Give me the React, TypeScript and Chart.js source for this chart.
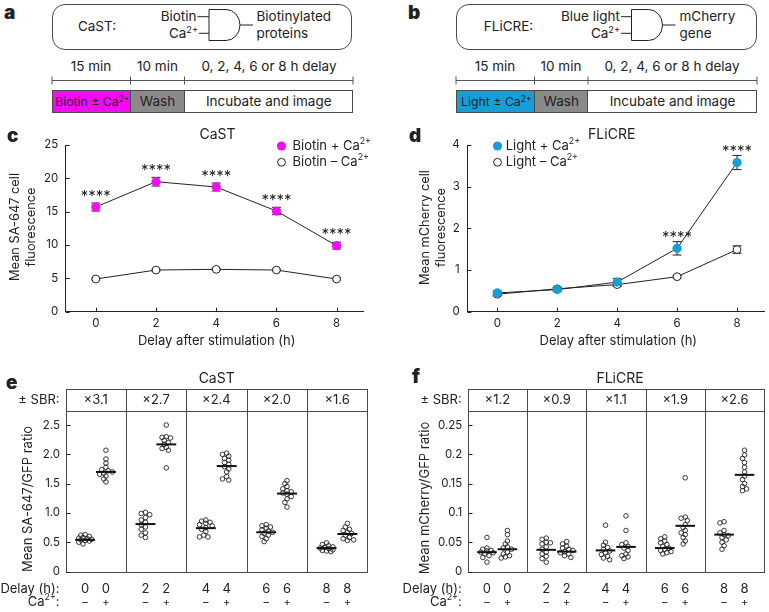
import React, { useEffect, useRef } from 'react';
import { Chart, registerables } from 'chart.js';

Chart.register(...registerables);

const FONT = 'Inter, "Noto Sans", "DejaVu Sans", sans-serif';
const INK = '#222222';
const MAGENTA = '#f50cf2';
const BLUE = '#169fd7';
const WASH = '#8a8a8a';
const BOX = '#4a4a4a';

// ---------- data: panels c & d ----------
const DELAYS = [0, 2, 4, 6, 8];
const CAST_PLUS = [15.7, 19.5, 18.7, 15.1, 9.9];
const CAST_PLUS_ERR = [0.6, 0.65, 0.6, 0.55, 0.5];
const CAST_MINUS = [4.9, 6.25, 6.35, 6.25, 4.9];
const CAST_MINUS_ERR = [0.15, 0.15, 0.15, 0.15, 0.15];
const CAST_SIG = ['****', '****', '****', '****', '****'];
const FLICRE_PLUS = [0.45, 0.53, 0.71, 1.52, 3.58];
const FLICRE_PLUS_ERR = [0.05, 0.05, 0.09, 0.16, 0.17];
const FLICRE_MINUS = [0.42, 0.55, 0.65, 0.84, 1.49];
const FLICRE_MINUS_ERR = [0.04, 0.04, 0.04, 0.03, 0.09];
const FLICRE_SIG = ['', '', '', '****', '****'];
const C_YTICKS = [0, 5, 10, 15, 20, 25];
const D_YTICKS = [0, 1, 2, 3, 4];

// ---------- data: panels e & f ----------
const E_YTICKS = [0, 0.5, 1.0, 1.5, 2.0, 2.5];
const F_YTICKS = [0, 0.05, 0.1, 0.15, 0.2, 0.25];
const SBR_CAST = ['×3.1', '×2.7', '×2.4', '×2.0', '×1.6'];
const SBR_FLICRE = ['×1.2', '×0.9', '×1.1', '×1.9', '×2.6'];
const CA_LABELS = ['–', '+'];

const CAST_RATIO_MINUS = [
  [0.47, 0.5, 0.52, 0.53, 0.54, 0.55, 0.56, 0.57, 0.58, 0.6, 0.62, 0.63],
  [1.01, 0.99, 0.97, 0.92, 0.88, 0.84, 0.8, 0.76, 0.72, 0.66, 0.62, 0.58],
  [0.88, 0.86, 0.84, 0.82, 0.8, 0.78, 0.75, 0.72, 0.68, 0.62, 0.59, 0.59],
  [0.8, 0.78, 0.76, 0.74, 0.71, 0.69, 0.67, 0.65, 0.62, 0.6, 0.56, 0.51],
  [0.49, 0.46, 0.44, 0.42, 0.41, 0.4, 0.39, 0.37, 0.36, 0.35, 0.34],
];
const CAST_RATIO_PLUS = [
  [2.07, 1.92, 1.85, 1.78, 1.74, 1.72, 1.7, 1.68, 1.66, 1.63, 1.58, 1.53],
  [2.5, 2.3, 2.29, 2.28, 2.24, 2.2, 2.17, 2.12, 2.1, 2.07, 1.77],
  [2.02, 2.0, 1.97, 1.93, 1.9, 1.86, 1.83, 1.79, 1.75, 1.7, 1.62, 1.58, 1.56],
  [1.55, 1.5, 1.45, 1.41, 1.38, 1.36, 1.34, 1.32, 1.28, 1.24, 1.18, 1.1],
  [0.82, 0.76, 0.72, 0.7, 0.67, 0.65, 0.62, 0.58, 0.56, 0.54, 0.53],
];
const CAST_MEDIAN_MINUS = [0.54, 0.81, 0.74, 0.67, 0.4];
const CAST_MEDIAN_PLUS = [1.7, 2.17, 1.8, 1.33, 0.64];

const FLICRE_RATIO_MINUS = [
  [0.058, 0.04, 0.038, 0.036, 0.035, 0.033, 0.032, 0.03, 0.027, 0.024, 0.016],
  [0.057, 0.055, 0.05, 0.049, 0.047, 0.042, 0.038, 0.033, 0.03, 0.026, 0.022, 0.016],
  [0.079, 0.05, 0.045, 0.041, 0.038, 0.035, 0.032, 0.029, 0.026, 0.023, 0.02],
  [0.059, 0.056, 0.052, 0.049, 0.046, 0.043, 0.04, 0.038, 0.036, 0.034, 0.032, 0.03],
  [0.085, 0.083, 0.07, 0.066, 0.063, 0.061, 0.058, 0.054, 0.05, 0.044, 0.038],
];
const FLICRE_RATIO_PLUS = [
  [0.07, 0.063, 0.052, 0.047, 0.042, 0.04, 0.038, 0.033, 0.03, 0.027, 0.025, 0.023],
  [0.051, 0.047, 0.043, 0.04, 0.038, 0.036, 0.034, 0.032, 0.03, 0.027, 0.024],
  [0.095, 0.07, 0.049, 0.046, 0.043, 0.04, 0.036, 0.03, 0.027, 0.025, 0.022],
  [0.16, 0.093, 0.091, 0.087, 0.08, 0.075, 0.07, 0.066, 0.063, 0.058, 0.052, 0.047],
  [0.207, 0.199, 0.193, 0.186, 0.178, 0.17, 0.163, 0.157, 0.15, 0.145, 0.141, 0.138],
];
const FLICRE_MEDIAN_MINUS = [0.033, 0.037, 0.036, 0.04, 0.063];
const FLICRE_MEDIAN_PLUS = [0.038, 0.034, 0.042, 0.078, 0.165];

// ---------- rich text helpers ----------
type Seg = { t: string; sup: boolean };
function parseRich(s: string): Seg[] {
  const out: Seg[] = [];
  const re = /\^\{([^}]*)\}/g;
  let last = 0;
  let m: RegExpExecArray | null;
  while ((m = re.exec(s))) {
    if (m.index > last) out.push({ t: s.slice(last, m.index), sup: false });
    out.push({ t: m[1], sup: true });
    last = re.lastIndex;
  }
  if (last < s.length) out.push({ t: s.slice(last), sup: false });
  return out;
}

function drawRich(
  ctx: CanvasRenderingContext2D,
  text: string,
  x: number,
  y: number,
  size: number,
  align: 'left' | 'center' | 'right' = 'center',
  rotate = false,
  weight = '400'
) {
  const segs = parseRich(text);
  ctx.save();
  ctx.translate(x, y);
  if (rotate) ctx.rotate(-Math.PI / 2);
  const fontFor = (sup: boolean) => `${weight} ${sup ? size * 0.68 : size}px ${FONT}`;
  const ws: number[] = [];
  let total = 0;
  for (const s of segs) {
    ctx.font = fontFor(s.sup);
    const w = ctx.measureText(s.t).width;
    ws.push(w);
    total += w;
  }
  let cx = align === 'left' ? 0 : align === 'right' ? -total : -total / 2;
  ctx.textAlign = 'left';
  ctx.textBaseline = 'middle';
  ctx.fillStyle = INK;
  segs.forEach((s, i) => {
    ctx.font = fontFor(s.sup);
    ctx.fillText(s.t, cx, s.sup ? -size * 0.36 : 0);
    cx += ws[i];
  });
  ctx.restore();
}

function line(ctx: CanvasRenderingContext2D, x1: number, y1: number, x2: number, y2: number) {
  ctx.beginPath();
  ctx.moveTo(x1, y1);
  ctx.lineTo(x2, y2);
  ctx.stroke();
}

// deterministic, narrow beeswarm offsets (no randomness)
function swarm(values: number[], center: number, yPx: number, xPx: number) {
  const sorted = [...values].sort((a, b) => b - a);
  const placed: { dx: number; py: number }[] = [];
  const step = 2.1;
  const minD = 3.6;
  return sorted.map((v) => {
    const py = v * yPx;
    let best = 0;
    let bestD = -1;
    for (let k = 0; k <= 6; k++) {
      const dx = k === 0 ? 0 : (k % 2 ? -1 : 1) * Math.ceil(k / 2) * step;
      const dMin = placed.reduce((acc, p) => Math.min(acc, Math.hypot(p.dx - dx, p.py - py)), Infinity);
      if (dMin >= minD) {
        best = dx;
        bestD = Infinity;
        break;
      }
      if (dMin > bestD) {
        bestD = dMin;
        best = dx;
      }
    }
    placed.push({ dx: best, py });
    return { x: center + best / xPx, y: v };
  });
}

// ---------- panels c & d ----------
type LineSpec = {
  ox: number;
  oy: number;
  yWidth: number;
  padTop: number;
  padRight: number;
  xHeight: number;
  yMax: number;
  yTicks: number[];
  plus: number[];
  plusErr: number[];
  minus: number[];
  minusErr: number[];
  sig: string[];
  color: string;
  title: string;
  titleX: number;
  yTitle: string[];
  yTitleX: number[];
  yTitleY: number;
  xTitleX: number;
  legX: number;
  legTextX: number;
  legPlus: string;
  legMinus: string;
};

function makeLineChart(canvas: HTMLCanvasElement, p: LineSpec) {
  const deco = {
    id: 'deco',
    beforeDatasetsDraw(chart: any) {
      const ctx = chart.ctx as CanvasRenderingContext2D;
      const { x, y } = chart.scales;
      ctx.save();
      ctx.strokeStyle = INK;
      ctx.lineWidth = 1;
      const bars = (vals: number[], errs: number[]) =>
        vals.forEach((v, i) => {
          const px = x.getPixelForValue(DELAYS[i]);
          const t = y.getPixelForValue(v + errs[i]);
          const b = y.getPixelForValue(v - errs[i]);
          line(ctx, px, t, px, b);
          line(ctx, px - 4.5, t, px + 4.5, t);
          line(ctx, px - 4.5, b, px + 4.5, b);
        });
      bars(p.minus, p.minusErr);
      bars(p.plus, p.plusErr);
      ctx.restore();
    },
    afterDraw(chart: any) {
      const ctx = chart.ctx as CanvasRenderingContext2D;
      const { x, y } = chart.scales;
      const ca = chart.chartArea;
      const X = (v: number) => v - p.ox;
      const Y = (v: number) => v - p.oy;
      ctx.save();
      ctx.strokeStyle = INK;
      ctx.lineWidth = 1;
      // inward tick marks
      y.ticks.forEach((t: any) => {
        const py = Math.round(y.getPixelForValue(t.value)) + 0.5;
        line(ctx, ca.left, py, ca.left + 4, py);
      });
      x.ticks.forEach((t: any) => {
        const px = Math.round(x.getPixelForValue(t.value)) + 0.5;
        line(ctx, px, ca.bottom, px, ca.bottom - 4);
      });
      // significance stars
      p.sig.forEach((s, i) => {
        if (!s) return;
        const px = x.getPixelForValue(DELAYS[i]);
        const py = y.getPixelForValue(p.plus[i]) - 6.5;
        ctx.font = `400 15px ${FONT}`;
        ctx.fillStyle = INK;
        ctx.textAlign = 'center';
        ctx.textBaseline = 'alphabetic';
        ctx.fillText(s, px, py);
      });
      // titles
      drawRich(ctx, p.title, X(p.titleX), Y(134.5), 14);
      drawRich(ctx, 'Delay after stimulation (h)', X(p.xTitleX), Y(341), 13);
      p.yTitle.forEach((t, i) => drawRich(ctx, t, X(p.yTitleX[i]), Y(p.yTitleY), 12.8, 'center', true));
      // legend
      const r1 = Y(146);
      const r2 = Y(162.3);
      ctx.beginPath();
      ctx.arc(X(p.legX), r1, 4.6, 0, Math.PI * 2);
      ctx.fillStyle = p.color;
      ctx.fill();
      ctx.beginPath();
      ctx.arc(X(p.legX), r2, 3.9, 0, Math.PI * 2);
      ctx.fillStyle = '#fff';
      ctx.fill();
      ctx.strokeStyle = INK;
      ctx.stroke();
      drawRich(ctx, p.legPlus, X(p.legTextX), r1, 13, 'left');
      drawRich(ctx, p.legMinus, X(p.legTextX), r2, 13, 'left');
      ctx.restore();
    },
  };

  return new Chart(canvas, {
    type: 'scatter',
    data: {
      datasets: [
        {
          data: DELAYS.map((d, i) => ({ x: d, y: p.plus[i] })),
          showLine: true,
          borderColor: INK,
          borderWidth: 1,
          pointRadius: 4.6,
          pointBackgroundColor: p.color,
          pointBorderColor: p.color,
          pointBorderWidth: 0,
        },
        {
          data: DELAYS.map((d, i) => ({ x: d, y: p.minus[i] })),
          showLine: true,
          borderColor: INK,
          borderWidth: 1,
          pointRadius: 3.9,
          pointBackgroundColor: '#ffffff',
          pointBorderColor: INK,
          pointBorderWidth: 1,
        },
      ],
    },
    options: {
      animation: false,
      responsive: false,
      maintainAspectRatio: false,
      events: [],
      layout: { padding: { top: p.padTop, right: p.padRight, left: 0, bottom: 0 } },
      plugins: { legend: { display: false }, tooltip: { enabled: false }, title: { display: false } },
      scales: {
        x: {
          type: 'linear',
          min: -1,
          max: 8.9,
          afterBuildTicks: (s: any) => {
            s.ticks = DELAYS.map((v) => ({ value: v }));
          },
          afterFit: (s: any) => {
            s.height = p.xHeight;
          },
          grid: { display: false, drawTicks: false },
          border: { display: true, color: INK, width: 1 },
          ticks: { color: INK, font: { family: FONT, size: 11.5 }, padding: 4.5, maxRotation: 0, autoSkip: false },
        },
        y: {
          type: 'linear',
          min: 0,
          max: p.yMax,
          afterBuildTicks: (s: any) => {
            s.ticks = p.yTicks.map((v) => ({ value: v }));
          },
          afterFit: (s: any) => {
            s.width = p.yWidth;
          },
          grid: { display: false, drawTicks: false },
          border: { display: true, color: INK, width: 1 },
          ticks: { color: INK, font: { family: FONT, size: 11.5 }, padding: 7.5, autoSkip: false },
        },
      },
    },
    plugins: [deco],
  } as any);
}

// ---------- panels e & f ----------
type DotSpec = {
  ox: number;
  oy: number;
  yWidth: number;
  padTop: number;
  padRight: number;
  xHeight: number;
  yMax: number;
  yTicks: number[];
  fmt: (v: number) => string;
  minus: number[][];
  plus: number[][];
  medMinus: number[];
  medPlus: number[];
  sbr: string[];
  title: string;
  titleX: number;
  yTitle: string;
  yTitleX: number;
  yTitleY: number;
  yPx: number;
};

const LEFT_POS = 0.325;
const RIGHT_POS = 0.67;

function makeDotChart(canvas: HTMLCanvasElement, p: DotSpec) {
  const minusPts = p.minus.flatMap((vals, g) => swarm(vals, g + LEFT_POS, p.yPx, 60));
  const plusPts = p.plus.flatMap((vals, g) => swarm(vals, g + RIGHT_POS, p.yPx, 60));
  const HEADER = 22;
  const deco = {
    id: 'deco',
    afterDraw(chart: any) {
      const ctx = chart.ctx as CanvasRenderingContext2D;
      const { x, y } = chart.scales;
      const ca = chart.chartArea;
      const X = (v: number) => v - p.ox;
      const Y = (v: number) => v - p.oy;
      const L = Math.round(ca.left) + 0.5;
      const R = Math.round(ca.right) + 0.5;
      const T = Math.round(ca.top - HEADER) + 0.5;
      const M = Math.round(ca.top) + 0.5;
      const B = Math.round(ca.bottom) + 0.5;
      ctx.save();
      ctx.strokeStyle = BOX;
      ctx.lineWidth = 1;
      ctx.strokeRect(L, T, R - L, B - T);
      line(ctx, L, M, R, M);
      for (let g = 1; g < 5; g++) {
        const px = Math.round(x.getPixelForValue(g)) + 0.5;
        line(ctx, px, T, px, B);
      }
      // inward y ticks
      ctx.strokeStyle = INK;
      y.ticks.forEach((t: any) => {
        const py = Math.round(y.getPixelForValue(t.value)) + 0.5;
        line(ctx, L, py, L + 4, py);
      });
      // medians
      ctx.lineWidth = 2;
      ctx.strokeStyle = '#111';
      const med = (vals: number[], pos: number) =>
        vals.forEach((v, g) => {
          const py = y.getPixelForValue(v);
          line(ctx, x.getPixelForValue(g + pos - 0.165), py, x.getPixelForValue(g + pos + 0.165), py);
        });
      med(p.medMinus, LEFT_POS);
      med(p.medPlus, RIGHT_POS);
      // header texts
      const hy = ca.top - HEADER / 2;
      drawRich(ctx, '± SBR:', ca.left - 6, hy, 13, 'right');
      p.sbr.forEach((s, g) => drawRich(ctx, s, x.getPixelForValue(g + 0.5), hy, 13));
      drawRich(ctx, p.title, X(p.titleX), Y(379), 14);
      drawRich(ctx, p.yTitle, X(p.yTitleX), Y(p.yTitleY), 13, 'center', true);
      // bottom label rows
      const r1 = ca.bottom + 17.5;
      const r2 = ca.bottom + 31;
      drawRich(ctx, 'Delay (h):', ca.left - 6, r1, 13, 'right');
      drawRich(ctx, 'Ca^{2+}:', ca.left - 6, r2, 13, 'right');
      DELAYS.forEach((d, g) => {
        drawRich(ctx, String(d), x.getPixelForValue(g + LEFT_POS), r1, 13);
        drawRich(ctx, String(d), x.getPixelForValue(g + RIGHT_POS), r1, 13);
        drawRich(ctx, CA_LABELS[0], x.getPixelForValue(g + LEFT_POS), r2, 11);
        drawRich(ctx, CA_LABELS[1], x.getPixelForValue(g + RIGHT_POS), r2, 11);
      });
      ctx.restore();
    },
  };

  const dotStyle = {
    showLine: false,
    pointRadius: 2.3,
    pointBorderWidth: 0.9,
    pointBorderColor: INK,
    pointBackgroundColor: 'rgba(255,255,255,0)',
  };

  return new Chart(canvas, {
    type: 'scatter',
    data: {
      datasets: [
        { data: minusPts, ...dotStyle },
        { data: plusPts, ...dotStyle },
      ],
    },
    options: {
      animation: false,
      responsive: false,
      maintainAspectRatio: false,
      events: [],
      layout: { padding: { top: p.padTop, right: p.padRight, left: 0, bottom: 0 } },
      plugins: { legend: { display: false }, tooltip: { enabled: false }, title: { display: false } },
      scales: {
        x: {
          type: 'linear',
          min: 0,
          max: 5,
          afterFit: (s: any) => {
            s.height = p.xHeight;
          },
          grid: { display: false, drawTicks: false },
          border: { display: false },
          ticks: { display: false },
        },
        y: {
          type: 'linear',
          min: 0,
          max: p.yMax,
          afterBuildTicks: (s: any) => {
            s.ticks = p.yTicks.map((v) => ({ value: v }));
          },
          afterFit: (s: any) => {
            s.width = p.yWidth;
          },
          grid: { display: false, drawTicks: false },
          border: { display: false },
          ticks: {
            color: INK,
            font: { family: FONT, size: 11.5 },
            padding: 5.5,
            autoSkip: false,
            callback: (v: any) => p.fmt(Number(v)),
          },
        },
      },
    },
    plugins: [deco],
  } as any);
}

function ChartBox({ left, top, width, height, make }: { left: number; top: number; width: number; height: number; make: (c: HTMLCanvasElement) => Chart }) {
  const ref = useRef<HTMLCanvasElement>(null);
  useEffect(() => {
    const c = make(ref.current as HTMLCanvasElement);
    return () => c.destroy();
  }, []);
  return (
    <div style={{ position: 'absolute', left, top, width, height }}>
      <canvas ref={ref} width={width} height={height} style={{ width, height, display: 'block' }} />
    </div>
  );
}

// ---------- HTML text for schematic panels ----------
function Rich({ text }: { text: string }) {
  return (
    <>
      {parseRich(text).map((s, i) =>
        s.sup ? (
          <span key={i} style={{ fontSize: '0.68em', position: 'relative', top: '-0.5em' }}>
            {s.t}
          </span>
        ) : (
          <span key={i}>{s.t}</span>
        )
      )}
    </>
  );
}

function Txt({ x, y, text, size = 13, align = 'center', weight = 400 }: { x: number; y: number; text: string; size?: number; align?: 'left' | 'center' | 'right'; weight?: number }) {
  const tx = align === 'center' ? '-50%' : align === 'right' ? '-100%' : '0';
  return (
    <span
      style={{
        position: 'absolute',
        left: x,
        top: y,
        transform: `translate(${tx}, -50%)`,
        fontSize: size,
        fontFamily: FONT,
        fontWeight: weight,
        lineHeight: 1,
        whiteSpace: 'nowrap',
        color: INK,
      }}
    >
      <Rich text={text} />
    </span>
  );
}

type SchemeSpec = {
  boxL: number;
  boxR: number;
  name: string;
  nameX: number;
  in1: string;
  in1R: number;
  in2: string;
  in2R: number;
  gateL: number;
  out1: string;
  out2: string;
  outL: number;
  cuts: number[]; // ruler boundaries
  labels: string[];
  labelX: number[];
  segText: string[];
  segColor: string[];
};

function Scheme({ s }: { s: SchemeSpec }) {
  const gL = s.gateL;
  const gT = 9.5;
  const gB = 40.5;
  const midY = 25;
  return (
    <>
      <div
        style={{
          position: 'absolute',
          left: s.boxL,
          top: 4,
          width: s.boxR - s.boxL,
          height: 46,
          border: `1px solid ${BOX}`,
          borderRadius: 13,
          boxSizing: 'border-box',
        }}
      />
      <svg style={{ position: 'absolute', left: 0, top: 0 }} width={769} height={120}>
        <g stroke={INK} strokeWidth={1} fill="none">
          <line x1={s.in1R + 1} y1={16.7} x2={gL} y2={16.7} />
          <line x1={s.in2R + 1} y1={33.3} x2={gL} y2={33.3} />
          <path d={`M${gL} ${gT} H${gL + 17} A14 ${(gB - gT) / 2} 0 0 1 ${gL + 17} ${gB} H${gL} Z`} />
          <line x1={gL + 31} y1={midY} x2={gL + 44} y2={midY} />
          <line x1={s.cuts[0]} y1={80.5} x2={s.cuts[3]} y2={80.5} stroke="#555" />
          {s.cuts.map((c, i) => (
            <line key={i} x1={c} y1={76.5} x2={c} y2={84.5} stroke="#555" />
          ))}
        </g>
      </svg>
      <Txt x={s.nameX} y={27} text={s.name} size={13.5} />
      <Txt x={s.in1R} y={16.5} text={s.in1} align="right" size={13.5} />
      <Txt x={s.in2R} y={34} text={s.in2} align="right" size={13.5} />
      <Txt x={s.outL} y={16.5} text={s.out1} align="left" size={13.5} />
      <Txt x={s.outL} y={33.5} text={s.out2} align="left" size={13.5} />
      {s.labels.map((l, i) => (
        <Txt key={i} x={s.labelX[i]} y={67} text={l} size={13.5} />
      ))}
      {s.segText.map((t, i) => (
        <div
          key={i}
          style={{
            position: 'absolute',
            left: s.cuts[i],
            top: 89.5,
            width: s.cuts[i + 1] - s.cuts[i],
            height: 23,
            background: s.segColor[i],
            borderTop: `1px solid ${BOX}`,
            borderBottom: `1px solid ${BOX}`,
            borderLeft: i === 0 ? `1px solid ${BOX}` : 'none',
            borderRight: `1px solid ${BOX}`,
            boxSizing: 'border-box',
          }}
        >
          <Txt x={(s.cuts[i + 1] - s.cuts[i]) / 2} y={11.5} text={t} size={i === 0 ? 12.3 : 13.5} />
        </div>
      ))}
    </>
  );
}

const SCHEME_A: SchemeSpec = {
  boxL: 52,
  boxR: 352,
  name: 'CaST:',
  nameX: 97,
  in1: 'Biotin',
  in1R: 196.5,
  in2: 'Ca^{2+}',
  in2R: 198,
  gateL: 209,
  out1: 'Biotinylated',
  out2: 'proteins',
  outL: 256.5,
  cuts: [52, 130.5, 184.5, 353],
  labels: ['15 min', '10 min', '0, 2, 4, 6 or 8 h delay'],
  labelX: [91, 157.5, 269],
  segText: ['Biotin ± Ca^{2+}', 'Wash', 'Incubate and image'],
  segColor: [MAGENTA, WASH, '#ffffff'],
};

const SCHEME_B: SchemeSpec = {
  boxL: 456,
  boxR: 757,
  name: 'FLiCRE:',
  nameX: 508.5,
  in1: 'Blue light',
  in1R: 620,
  in2: 'Ca^{2+}',
  in2R: 620,
  gateL: 631.5,
  out1: 'mCherry',
  out2: 'gene',
  outL: 679.5,
  cuts: [456, 534.5, 588, 757],
  labels: ['15 min', '10 min', '0, 2, 4, 6 or 8 h delay'],
  labelX: [495, 561, 672],
  segText: ['Light ± Ca^{2+}', 'Wash', 'Incubate and image'],
  segColor: [BLUE, WASH, '#ffffff'],
};

export default function App() {
  const c = (cv: HTMLCanvasElement) =>
    makeLineChart(cv, {
      ox: 0,
      oy: 120,
      yWidth: 65.7,
      padTop: 25,
      padRight: 21.3,
      xHeight: 48.3,
      yMax: 25,
      yTicks: C_YTICKS,
      plus: CAST_PLUS,
      plusErr: CAST_PLUS_ERR,
      minus: CAST_MINUS,
      minusErr: CAST_MINUS_ERR,
      sig: CAST_SIG,
      color: MAGENTA,
      title: 'CaST',
      titleX: 217.5,
      yTitle: ['Mean SA-647 cell', 'fluorescence'],
      yTitleX: [15, 31.5],
      yTitleY: 227,
      xTitleX: 216.7,
      legX: 281.5,
      legTextX: 292.5,
      legPlus: 'Biotin + Ca^{2+}',
      legMinus: 'Biotin – Ca^{2+}',
    });
  const d = (cv: HTMLCanvasElement) =>
    makeLineChart(cv, {
      ox: 385,
      oy: 120,
      yWidth: 82.3,
      padTop: 25,
      padRight: 3.7,
      xHeight: 48.3,
      yMax: 4,
      yTicks: D_YTICKS,
      plus: FLICRE_PLUS,
      plusErr: FLICRE_PLUS_ERR,
      minus: FLICRE_MINUS,
      minusErr: FLICRE_MINUS_ERR,
      sig: FLICRE_SIG,
      color: BLUE,
      title: 'FLiCRE',
      titleX: 611.7,
      yTitle: ['Mean mCherry cell', 'fluorescence'],
      yTitleX: [425.5, 441.5],
      yTitleY: 227.5,
      xTitleX: 618.3,
      legX: 497.5,
      legTextX: 505.7,
      legPlus: 'Light + Ca^{2+}',
      legMinus: 'Light – Ca^{2+}',
    });
  const e = (cv: HTMLCanvasElement) =>
    makeDotChart(cv, {
      ox: 0,
      oy: 360,
      yWidth: 65.5,
      padTop: 51,
      padRight: 17.7,
      xHeight: 40.5,
      yMax: 2.74,
      yTicks: E_YTICKS,
      fmt: (v) => (v === 0 ? '0' : v.toFixed(1)),
      minus: CAST_RATIO_MINUS,
      plus: CAST_RATIO_PLUS,
      medMinus: CAST_MEDIAN_MINUS,
      medPlus: CAST_MEDIAN_PLUS,
      sbr: SBR_CAST,
      title: 'CaST',
      titleX: 216.7,
      yTitle: 'Mean SA-647/GFP ratio',
      yTitleX: 28.3,
      yTitleY: 499,
      yPx: 58.8,
    });
  const f = (cv: HTMLCanvasElement) =>
    makeDotChart(cv, {
      ox: 385,
      oy: 360,
      yWidth: 82.7,
      padTop: 51,
      padRight: 3.3,
      xHeight: 40.5,
      yMax: 0.274,
      yTicks: F_YTICKS,
      fmt: (v) => String(Math.round(v * 100) / 100),
      minus: FLICRE_RATIO_MINUS,
      plus: FLICRE_RATIO_PLUS,
      medMinus: FLICRE_MEDIAN_MINUS,
      medPlus: FLICRE_MEDIAN_PLUS,
      sbr: SBR_FLICRE,
      title: 'FLiCRE',
      titleX: 620,
      yTitle: 'Mean mCherry/GFP ratio',
      yTitleX: 425,
      yTitleY: 498,
      yPx: 585,
    });

  return (
    <div style={{ position: 'absolute', left: 0, top: 0, width: 769, height: 612, background: '#fff', overflow: 'hidden' }}>
      <Scheme s={SCHEME_A} />
      <Scheme s={SCHEME_B} />
      <ChartBox left={0} top={120} width={385} height={240} make={c} />
      <ChartBox left={385} top={120} width={384} height={240} make={d} />
      <ChartBox left={0} top={360} width={385} height={252} make={e} />
      <ChartBox left={385} top={360} width={384} height={252} make={f} />
      <Txt x={4} y={11.5} text="a" size={19} align="left" weight={900} />
      <Txt x={408} y={12} text="b" size={19} align="left" weight={900} />
      <Txt x={7} y={134.5} text="c" size={19} align="left" weight={900} />
      <Txt x={409} y={134.5} text="d" size={19} align="left" weight={900} />
      <Txt x={6} y={381.5} text="e" size={19} align="left" weight={900} />
      <Txt x={412} y={375.5} text="f" size={19} align="left" weight={900} />
    </div>
  );
}
